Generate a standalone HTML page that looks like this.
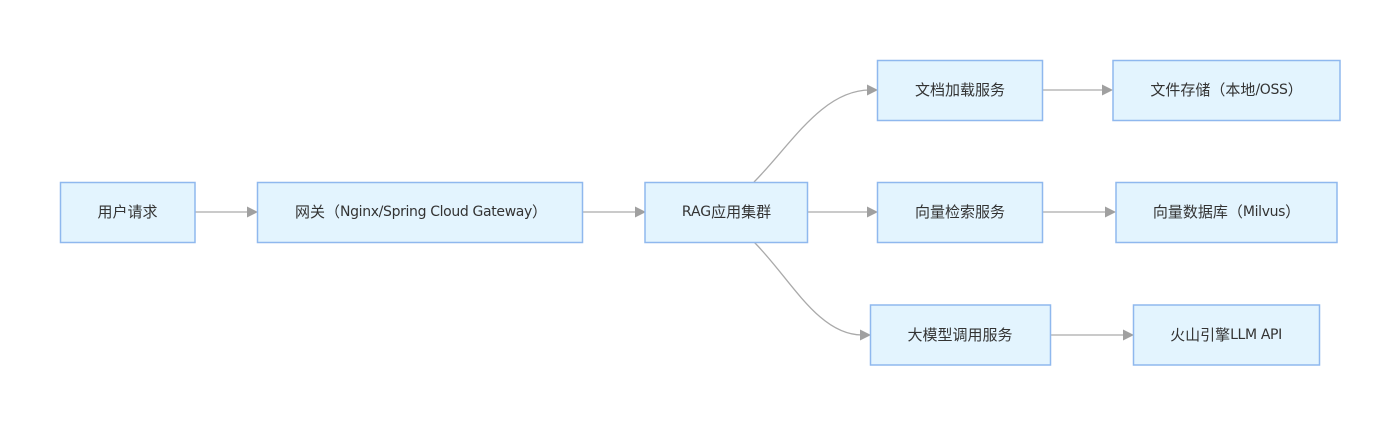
<!DOCTYPE html>
<html><head><meta charset="utf-8"><style>
html,body{margin:0;padding:0;background:#fff;width:1400px;height:425px;overflow:hidden}
svg{display:block}
rect{fill:#e3f4fe;stroke:#8fb8ee;stroke-width:1.5}
path.e{fill:none;stroke:#aaa;stroke-width:1.3}
polygon{fill:#a0a0a0}
text{font-family:"DejaVu Sans","Noto Sans CJK SC",sans-serif;font-size:15px;fill:#333;text-anchor:middle;dominant-baseline:central}
tspan.l{font-size:14px;letter-spacing:-.35px}
tspan.r{font-size:14px}
</style></head><body>
<svg width="1400" height="425" viewBox="0 0 1400 425" xmlns="http://www.w3.org/2000/svg">
<path class="e" d="M195 212H250"/><polygon points="247,206.500 258,212 247,217.500"/>
<path class="e" d="M582 212H638"/><polygon points="635,206.500 646,212 635,217.500"/>
<path class="e" d="M807 212H870"/><polygon points="867,206.500 878,212 867,217.500"/>
<path class="e" d="M1042 90H1105"/><polygon points="1102,84.500 1113,90 1102,95.500"/>
<path class="e" d="M1042 212H1108"/><polygon points="1105,206.500 1116,212 1105,217.500"/>
<path class="e" d="M1050 335H1126"/><polygon points="1123,329.500 1134,335 1123,340.500"/>
<path class="e" d="M754 182C790 146 822 90 870 90"/><polygon points="867,84.500 878,90 867,95.500"/>
<path class="e" d="M754 242C790 278 818 335 862 335"/><polygon points="860,329.500 871,335 860,340.500"/>
<rect x="60.5" y="182.5" width="134.500" height="60"/>
<rect x="257.500" y="182.500" width="325" height="60"/>
<rect x="645" y="182.500" width="162.500" height="60"/>
<rect x="877.500" y="60.500" width="165" height="60"/>
<rect x="1113" y="60.500" width="227" height="60"/>
<rect x="877.500" y="182.500" width="165" height="60"/>
<rect x="1116" y="182.500" width="221" height="60"/>
<rect x="870.500" y="305" width="180" height="60"/>
<rect x="1133.500" y="305" width="186" height="60"/>
<text x="127.500" y="212">用户请求</text>
<text x="421" y="212">网关（<tspan class="l">Nginx/Spring Cloud Gateway</tspan>）</text>
<text x="726.500" y="212"><tspan class="r">RAG</tspan>应用集群</text>
<text x="960" y="90">文档加载服务</text>
<text x="1226.500" y="90">文件存储（本地<tspan class="l">/OSS</tspan>）</text>
<text x="960" y="212">向量检索服务</text>
<text x="1226.500" y="212">向量数据库（<tspan class="l">Milvus</tspan>）</text>
<text x="960" y="335">大模型调用服务</text>
<text x="1226" y="335">火山引擎<tspan class="l">LLM API</tspan></text>
</svg>
</body></html>
